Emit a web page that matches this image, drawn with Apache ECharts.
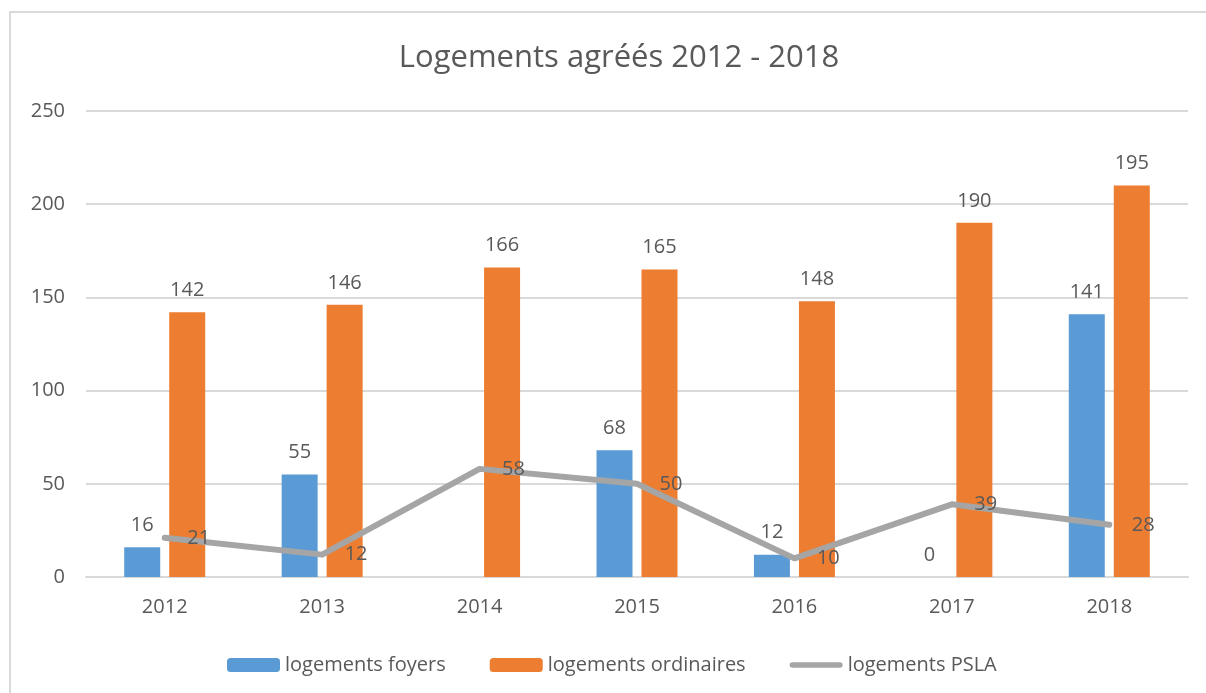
<!DOCTYPE html>
<html>
<head>
<meta charset="utf-8">
<script src="https://cdn.jsdelivr.net/npm/echarts@6/dist/echarts.min.js"></script>
<style>
    html, body { margin: 0; padding: 0; background: #fff; }
    #main { width: 1206px; height: 693px; }
</style>
</head>
<body>
<div id="main"></div>
<script>
    var years = ['2012', '2013', '2014', '2015', '2016', '2017', '2018'];
    var foyers = [16, 55, null, 68, 12, 0, 141];
    var ordinaires = [142, 146, 166, 165, 148, 190, 210];
    // libellés tels qu'affichés sur le graphique d'origine
    var ordinairesLabels = ['142', '146', '166', '165', '148', '190', '195'];
    var psla = [21, 12, 58, 50, 10, 39, 28];
    var yTicks = [0, 50, 100, 150, 200, 250];

    var txt = '#595959';
    var font = 'Open Sans';

    var myChart = echarts.init(document.getElementById('main'));
    var option = {
        backgroundColor: '#fff',
        textStyle: { fontFamily: font, color: txt },
        graphic: [{
            type: 'rect',
            shape: { x: 10, y: 12, width: 1300, height: 900 },
            style: { fill: 'none', stroke: '#d9d9d9', lineWidth: 2 }
        }],
        title: {
            text: 'Logements agréés 2012 - 2018',
            left: 614,
            textAlign: 'center',
            top: 38,
            textStyle: { fontFamily: font, fontSize: 31, fontWeight: 'normal', color: txt }
        },
        legend: {
            left: 222,
            top: 650,
            itemWidth: 53,
            itemHeight: 14,
            itemGap: 44,
            textStyle: { fontFamily: font, fontSize: 20, color: txt },
            data: [
                'logements foyers',
                'logements ordinaires',
                { name: 'logements PSLA', icon: 'path://M3,0H55A3,3 0 0 1 55,6H3A3,3 0 0 1 3,0Z' }
            ]
        },
        grid: { left: 86, right: 18, top: 111, bottom: 116, containLabel: false },
        xAxis: {
            type: 'category',
            data: years,
            axisLine: { lineStyle: { color: '#d9d9d9', width: 2 } },
            axisTick: { show: false },
            axisLabel: { color: txt, fontSize: 20, margin: 20, fontFamily: font }
        },
        yAxis: {
            type: 'value',
            min: yTicks[0],
            max: yTicks[yTicks.length - 1],
            interval: yTicks[1] - yTicks[0],
            axisLine: { show: false },
            axisTick: { show: false },
            splitLine: { lineStyle: { color: '#d9d9d9', width: 2 } },
            axisLabel: { color: txt, fontSize: 20, margin: 21, fontFamily: font }
        },
        series: [{
            name: 'logements foyers',
            type: 'bar',
            data: foyers,
            barWidth: 36,
            barGap: '25%',
            itemStyle: { color: '#5b9bd5' },
            label: { show: true, position: 'top', distance: 12, fontSize: 20, color: txt, fontFamily: font }
        }, {
            name: 'logements ordinaires',
            type: 'bar',
            data: ordinaires,
            barWidth: 36,
            barGap: '25%',
            itemStyle: { color: '#ed7d31' },
            label: {
                show: true, position: 'top', distance: 12, fontSize: 20, color: txt, fontFamily: font,
                formatter: function (p) { return ordinairesLabels[p.dataIndex]; }
            }
        }, {
            name: 'logements PSLA',
            type: 'line',
            data: psla,
            symbol: 'circle',
            symbolSize: 1,
            itemStyle: { color: '#a5a5a5' },
            lineStyle: { color: '#a5a5a5', width: 6, cap: 'round', join: 'round' },
            label: { show: true, position: 'right', distance: 22, fontSize: 20, color: txt, fontFamily: font },
            z: 5
        }]
    };
    myChart.setOption(option);
</script>
</body>
</html>
